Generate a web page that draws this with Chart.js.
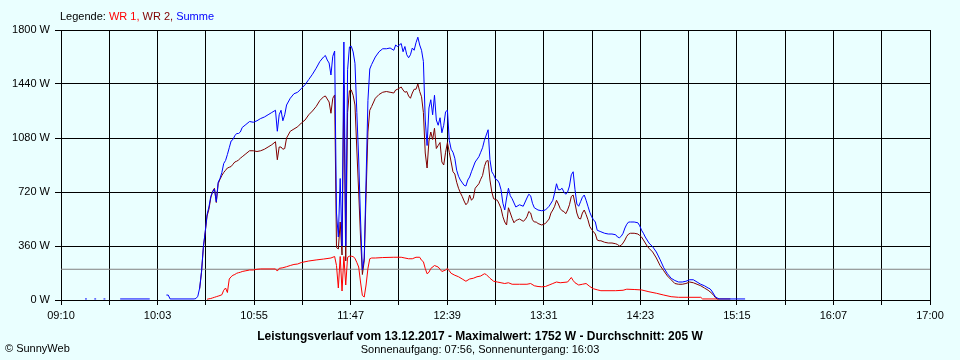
<!DOCTYPE html>
<html><head><meta charset="utf-8">
<script src="https://cdn.jsdelivr.net/npm/chart.js@4/dist/chart.umd.min.js"></script>
<style>html,body{margin:0;padding:0;background:#EAFFFF;}canvas{display:block;}</style>
</head><body>
<canvas id="c" width="960" height="360"></canvas>
<script>
// ---- tick labels ----
const xTickLabels = ['09:10','10:03','10:55','11:47','12:39','13:31','14:23','15:15','16:07','17:00'];
const yTickLabels = ['0 W','360 W','720 W','1080 W','1440 W','1800 W'];

// ---- Summe (blue) ----
const sumTimes = ['09:23','09:24','09:25','09:28','09:29','09:30','09:33','09:34','09:35','09:42','09:58','09:59','10:07','10:08','10:09','10:22','10:23','10:24','10:25','10:26','10:27','10:28','10:29','10:30','10:31','10:32','10:33','10:34','10:35','10:36','10:37','10:38','10:39','10:40','10:41','10:42','10:43','10:44','10:45','10:46','10:47','10:48','10:50','10:52','10:54','10:56','10:58','11:00','11:02','11:04','11:06','11:07','11:08','11:09','11:10','11:11','11:12','11:14','11:16','11:18','11:20','11:22','11:24','11:26','11:28','11:30','11:32','11:33','11:34','11:35','11:36','11:37','11:38','11:39','11:40','11:41','11:42','11:43','11:44','11:45','11:46','11:47','11:48','11:49','11:50','11:51','11:52','11:53','11:54','11:55','11:56','11:57','11:58','12:00','12:02','12:04','12:06','12:08','12:10','12:11','12:12','12:14','12:15','12:16','12:17','12:18','12:19','12:20','12:21','12:22','12:23','12:24','12:25','12:26','12:27','12:28','12:29','12:30','12:31','12:32','12:33','12:34','12:35','12:36','12:37','12:38','12:39','12:40','12:41','12:42','12:43','12:44','12:45','12:46','12:48','12:49','12:50','12:51','12:52','12:54','12:56','12:57','12:58','12:59','13:00','13:01','13:02','13:03','13:04','13:05','13:06','13:07','13:08','13:09','13:10','13:11','13:12','13:13','13:14','13:16','13:18','13:20','13:22','13:23','13:24','13:25','13:26','13:28','13:30','13:32','13:34','13:36','13:37','13:38','13:39','13:40','13:41','13:42','13:43','13:44','13:45','13:46','13:47','13:48','13:49','13:50','13:51','13:52','13:53','13:54','13:55','13:56','13:57','13:58','13:59','14:00','14:01','14:02','14:04','14:06','14:08','14:10','14:11','14:12','14:13','14:14','14:15','14:16','14:17','14:18','14:20','14:22','14:23','14:24','14:25','14:26','14:27','14:28','14:30','14:32','14:34','14:36','14:38','14:40','14:42','14:44','14:46','14:48','14:50','14:52','14:54','14:56','14:58','15:00','15:01','15:02','15:03','15:04','15:05','15:06','15:20'];
const sumValues = [7,7,null,7,7,null,7,7,null,7,7,null,33,33,7,7,10,25,80,190,355,455,570,620,690,720,740,655,785,810,850,910,930,970,1015,1060,1070,1095,1110,1110,1120,1150,1170,1190,1185,1195,1210,1220,1235,1250,1265,1125,1235,1265,1195,1235,1300,1345,1375,1385,1410,1435,1470,1505,1545,1590,1620,1630,1600,1580,1500,1625,1660,580,420,810,360,1720,360,1535,1687,1692,1654,1578,1250,940,540,200,280,800,1330,1540,1570,1620,1655,1675,1675,1680,1665,1700,1690,1710,1655,1690,1635,1615,1635,1680,1665,1715,1752,1700,1665,1590,1200,1030,1280,1335,1235,1365,1200,1165,1215,1115,1165,1255,1265,1065,1005,985,945,865,825,800,765,760,800,820,855,920,955,985,1015,1065,1100,1135,935,855,835,805,800,780,735,645,600,680,745,695,675,620,635,625,680,705,695,645,615,600,595,600,625,665,715,775,735,735,745,720,705,720,760,835,855,735,640,625,655,685,700,665,625,585,555,535,520,465,460,455,445,440,440,435,420,415,425,445,480,505,520,520,520,515,495,465,445,420,400,380,355,320,270,215,175,145,130,120,120,125,135,135,120,105,95,80,75,60,40,20,13,7,7];

// ---- WR 2 (dark red) ----
const wr2Times = ['10:25','10:26','10:27','10:28','10:29','10:30','10:31','10:32','10:33','10:34','10:35','10:36','10:37','10:38','10:39','10:40','10:41','10:42','10:43','10:44','10:45','10:46','10:47','10:48','10:50','10:52','10:54','10:56','10:58','11:00','11:02','11:04','11:06','11:07','11:08','11:09','11:10','11:11','11:12','11:14','11:16','11:18','11:20','11:22','11:24','11:26','11:28','11:30','11:32','11:33','11:34','11:35','11:36','11:37','11:38','11:39','11:40','11:41','11:42','11:43','11:44','11:45','11:46','11:47','11:48','11:49','11:50','11:51','11:52','11:53','11:54','11:55','11:56','11:57','11:58','12:00','12:02','12:04','12:06','12:08','12:10','12:11','12:12','12:14','12:15','12:16','12:17','12:18','12:19','12:20','12:21','12:22','12:23','12:24','12:25','12:26','12:27','12:28','12:29','12:30','12:31','12:32','12:33','12:34','12:35','12:36','12:37','12:38','12:39','12:40','12:41','12:42','12:43','12:44','12:45','12:46','12:47','12:48','12:49','12:50','12:51','12:52','12:53','12:54','12:55','12:56','12:57','12:58','12:59','13:00','13:01','13:02','13:03','13:04','13:05','13:06','13:07','13:08','13:09','13:10','13:11','13:12','13:13','13:14','13:15','13:16','13:17','13:18','13:20','13:21','13:22','13:23','13:24','13:25','13:26','13:27','13:28','13:30','13:32','13:34','13:35','13:36','13:37','13:38','13:39','13:40','13:41','13:42','13:43','13:44','13:45','13:46','13:47','13:48','13:49','13:50','13:51','13:52','13:53','13:54','13:55','13:56','13:57','13:58','13:59','14:00','14:01','14:02','14:04','14:06','14:08','14:10','14:11','14:12','14:13','14:14','14:15','14:16','14:17','14:18','14:20','14:22','14:23','14:24','14:25','14:26','14:27','14:28','14:30','14:32','14:34','14:36','14:38','14:40','14:42','14:44','14:46','14:48','14:50','14:52','14:54','14:56','14:58','15:00','15:01','15:02','15:03','15:04','15:05','15:12'];
const wr2Values = [75,185,350,450,560,605,680,725,745,650,775,805,830,850,865,880,885,890,905,920,925,933,945,955,975,995,995,990,995,1005,1020,1035,1055,935,1020,1020,1005,1010,1080,1125,1140,1155,1180,1200,1235,1260,1290,1330,1355,1360,1340,1320,1245,1345,1367,350,340,520,300,1430,260,1250,1395,1400,1365,1300,1000,720,420,170,260,700,1120,1265,1290,1345,1370,1385,1390,1385,1380,1400,1405,1420,1400,1385,1390,1360,1345,1380,1405,1405,1440,1390,1355,1250,980,880,1060,1120,1070,1145,1010,1030,1050,920,900,985,1050,985,920,855,840,785,745,715,690,660,635,650,700,665,680,745,760,775,805,830,890,925,930,800,720,675,670,665,640,610,555,520,500,615,580,545,515,530,535,540,525,535,555,590,580,535,520,520,510,500,510,540,580,600,625,665,640,610,595,590,575,600,635,690,700,645,580,545,540,580,600,570,535,490,470,455,440,400,395,395,385,380,380,375,370,360,365,380,400,425,440,445,445,440,430,420,400,380,360,345,320,280,230,195,160,135,110,105,105,110,120,115,105,95,80,65,55,45,30,15,7,7];

// ---- WR 1 (red) ----
const wr1Times = ['10:29','10:30','10:31','10:32','10:33','10:34','10:35','10:36','10:37','10:38','10:39','10:40','10:41','10:42','10:43','10:44','10:45','10:46','10:47','10:48','10:50','10:52','10:54','10:56','10:58','11:06','11:07','11:08','11:10','11:12','11:14','11:16','11:18','11:20','11:24','11:28','11:32','11:36','11:38','11:39','11:40','11:41','11:42','11:43','11:44','11:45','11:46','11:47','11:48','11:49','11:50','11:51','11:52','11:53','11:54','11:55','11:56','11:57','11:58','12:00','12:04','12:10','12:14','12:16','12:18','12:20','12:22','12:24','12:25','12:26','12:27','12:28','12:29','12:30','12:32','12:34','12:35','12:36','12:38','12:39','12:40','12:41','12:43','12:45','12:47','12:49','12:51','12:53','12:55','12:57','12:59','13:00','13:02','13:04','13:06','13:08','13:10','13:12','13:14','13:18','13:22','13:24','13:26','13:28','13:30','13:32','13:34','13:36','13:38','13:40','13:44','13:46','13:47','13:48','13:50','13:52','13:54','13:56','13:58','14:00','14:02','14:10','14:14','14:16','14:20','14:24','14:28','14:32','14:36','14:40','14:44','14:56','14:57','15:06'];
const wr1Values = [5,8,10,14,18,22,26,30,35,65,80,50,140,155,165,170,178,182,185,190,195,200,200,205,207,207,193,211,215,222,230,237,240,250,260,267,273,280,290,230,80,290,60,290,100,285,292,292,289,278,250,220,120,30,20,100,210,275,280,280,283,285,285,280,275,275,285,285,265,255,210,175,185,210,230,220,205,190,200,210,195,178,165,155,140,125,140,145,155,160,175,170,145,125,120,115,110,115,105,105,105,110,95,90,88,90,100,110,120,115,120,150,130,115,100,105,110,90,75,68,62,62,65,72,70,67,55,45,33,22,18,18,7,7];

// ---- average ----
const averageTimes = ['09:10','17:00'];
const averageValues = [205, 205];

// ---- texts ----
const legendLead = 'Legende: ';
const seriesNames = ['WR 1, ', 'WR 2, ', 'Summe'];
const titleText = 'Leistungsverlauf vom 13.12.2017 - Maximalwert: 1752 W - Durchschnitt: 205 W';
const subtitleText = 'Sonnenaufgang: 07:56, Sonnenuntergang: 16:03';
const creditText = '\u00A9 SunnyWeb';

const BG = '#EAFFFF';
const COLORS = ['#FF0000', '#800000', '#0000FF'];
const FONT = '"Liberation Sans", Arial, sans-serif';

function toMin(t){ const p = t.split(':'); return (+p[0])*60 + (+p[1]); }
function pts(times, vals){ return times.map((t,i)=>({x: toMin(t), y: vals[i]})); }

const xMin = toMin(xTickLabels[0]), xMax = toMin(xTickLabels[xTickLabels.length-1]);
const nGrid = (xTickLabels.length-1)*2;

const textPlugin = {
  id: 'texts',
  beforeDraw(chart){
    const ctx = chart.ctx; ctx.save(); ctx.fillStyle = BG; ctx.fillRect(0,0,chart.width,chart.height); ctx.restore();
  },
  afterDraw(chart){
    const ctx = chart.ctx; ctx.save();
    ctx.textBaseline = 'middle';
    ctx.font = '11px ' + FONT;
    let x = chart.chartArea.left - 1;
    ctx.fillStyle = '#000'; ctx.fillText(legendLead, x, 17); x += ctx.measureText(legendLead).width;
    seriesNames.forEach((s,i)=>{ ctx.fillStyle = COLORS[i]; ctx.fillText(s, x, 17); x += ctx.measureText(s).width; });
    ctx.fillStyle = '#000';
    ctx.textAlign = 'center';
    ctx.font = 'bold 12px ' + FONT; ctx.fillText(titleText, 480, 337);
    ctx.font = '11px ' + FONT; ctx.fillText(subtitleText, 480, 350);
    ctx.textAlign = 'left';
    ctx.fillText(creditText, 5, 349);
    ctx.restore();
  }
};

new Chart(document.getElementById('c'), {
  type: 'line',
  data: {
    datasets: [
      {label: 'Summe', data: pts(sumTimes, sumValues), borderColor: COLORS[2], order: 0},
      {label: 'WR 2', data: pts(wr2Times, wr2Values), borderColor: COLORS[1], order: 1},
      {label: 'WR 1', data: pts(wr1Times, wr1Values), borderColor: COLORS[0], order: 2},
      {label: 'Durchschnitt', data: pts(averageTimes, averageValues), borderColor: '#808080', order: 3}
    ]
  },
  options: {
    responsive: false, animation: false, events: [],
    parsing: true,
    spanGaps: false,
    elements: { point: { radius: 0 }, line: { borderWidth: 1, tension: 0, fill: false } },
    layout: { padding: { left: 0, right: 30, top: 30, bottom: 0 } },
    plugins: { legend: { display: false }, tooltip: { enabled: false }, title: { display: false } },
    scales: {
      x: {
        type: 'linear', min: xMin, max: xMax,
        afterBuildTicks(scale){ scale.ticks = Array.from({length: nGrid+1}, (_,i)=>({value: xMin + i*(xMax-xMin)/nGrid})); },
        afterFit(scale){ scale.height = 60; },
        grid: { color: '#000', lineWidth: 1, tickLength: 5, drawTicks: true },
        border: { color: '#000', width: 1 },
        ticks: { autoSkip: false, maxRotation: 0, padding: 4, color: '#000', font: { family: FONT, size: 11 },
          callback: (v, i) => (i % 2 === 0 ? xTickLabels[i/2] : '') }
      },
      y: {
        type: 'linear', min: 0, max: 1800,
        afterBuildTicks(scale){ scale.ticks = yTickLabels.map((_,i)=>({value: i*360})); },
        afterFit(scale){ scale.width = 61; },
        grid: { color: '#000', lineWidth: 1, tickLength: 6, drawTicks: true },
        border: { color: '#000', width: 1 },
        ticks: { autoSkip: false, padding: 5, color: '#000', font: { family: FONT, size: 11 },
          callback: (v, i) => yTickLabels[i] }
      }
    }
  },
  plugins: [textPlugin]
});
</script>
</body></html>
